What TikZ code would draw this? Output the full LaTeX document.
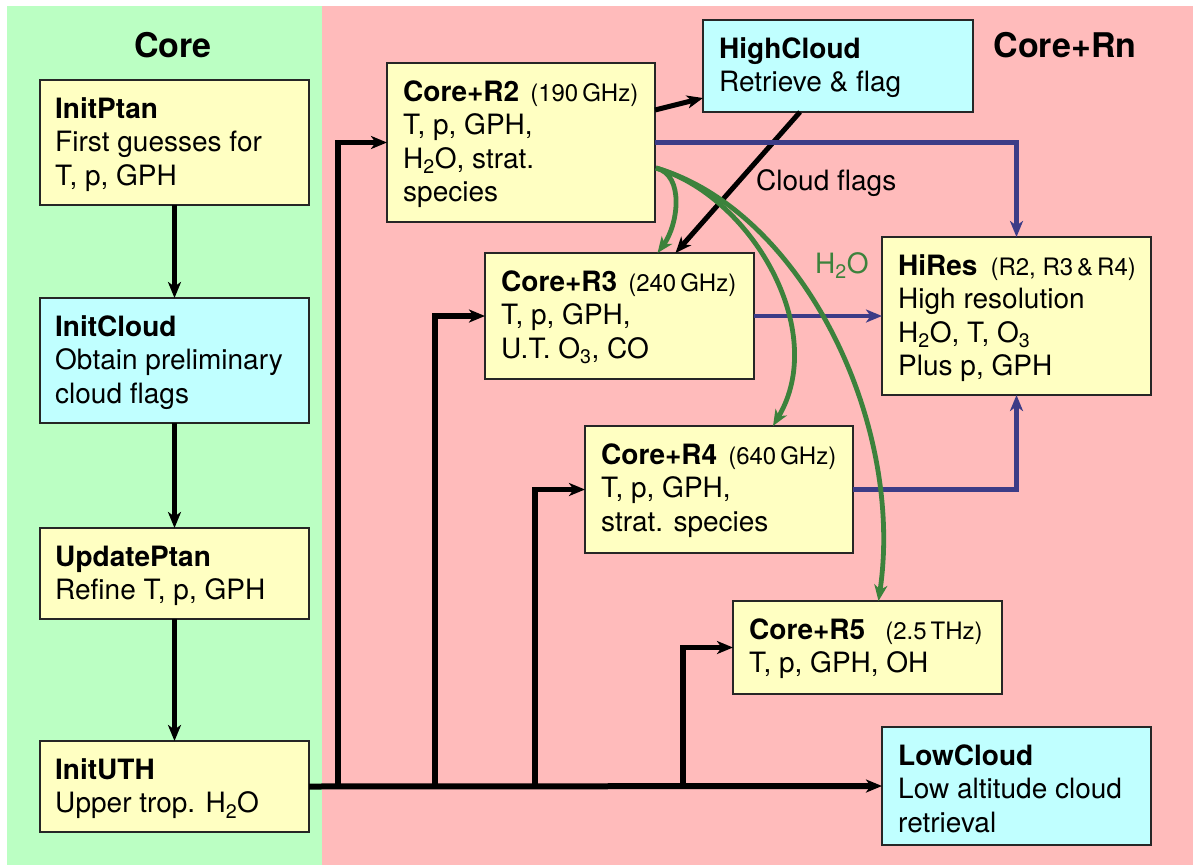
\documentclass[tikz,border=0pt]{standalone}
\usepackage{fontspec}
\setmainfont{TeX Gyre Heros}
\usetikzlibrary{arrows.meta}
\definecolor{bgG}{RGB}{187,255,195}
\definecolor{bgP}{RGB}{255,187,187}
\definecolor{boxY}{RGB}{255,255,194}
\definecolor{boxC}{RGB}{192,255,255}
\definecolor{arrB}{RGB}{60,60,135}
\definecolor{arrG}{RGB}{60,130,60}
\newcommand\smallpar[1]{{\fontsize{24}{28}\selectfont #1}}
\newcommand\firstline{\rule{0pt}{21pt}}
\begin{document}
\begin{tikzpicture}[x=1pt,y=-1pt,
  box/.style={draw=black!85, line width=1.4pt, anchor=north west, inner sep=0pt, outer sep=0pt},
  ybox/.style={box, fill=boxY},
  cbox/.style={box, fill=boxC},
  txt/.style={anchor=north west, inner sep=0pt, align=left, font=\fontsize{28}{33.5}\selectfont},
  lbl/.style={anchor=base west, inner sep=0pt, font=\fontsize{28}{33.5}\selectfont},
  ttl/.style={anchor=base, inner sep=0pt, font=\bfseries\fontsize{34}{40}\selectfont},
  tip/.style={-{Stealth[length=16pt,width=13pt,inset=4.5pt]}},
  blk/.style={tip, line width=5.5pt, black},
  blu/.style={tip, line width=4.8pt, arrB},
  grn/.style={tip, line width=4.8pt, arrG},
]
\useasboundingbox (0,0) rectangle (1197,865);
\fill[white] (0,0) rectangle (1197,865);
\fill[bgG] (7,6) rectangle (322,865);
\fill[bgP] (322,6) rectangle (1193,865);

\node[ttl] (tcore) at (173,57) {Core};
\node[ttl] (trn) at (1065,57) {Core+Rn};

% Core column
\node[ybox, minimum width=269pt, minimum height=125pt] (initptan) at (40,80) {};
\node[txt] (initptanT) at ([shift={(15pt,-17pt)}]initptan.north west)
  {\firstline\textbf{InitPtan}\\First guesses for\\T, p, GPH};
\node[cbox, minimum width=269pt, minimum height=125pt] (initcloud) at (40,298) {};
\node[txt] (initcloudT) at ([shift={(15pt,-17pt)}]initcloud.north west)
  {\firstline\textbf{InitCloud}\\Obtain preliminary\\cloud flags};
\node[ybox, minimum width=269pt, minimum height=91pt] (updateptan) at (40,528) {};
\node[txt] (updateptanT) at ([shift={(15pt,-17pt)}]updateptan.north west)
  {\firstline\textbf{UpdatePtan}\\Refine T, p, GPH};
\node[ybox, minimum width=269pt, minimum height=91pt] (inituth) at (40,741) {};
\node[txt] (inituthT) at ([shift={(15pt,-17pt)}]inituth.north west)
  {\firstline\textbf{InitUTH}\\Upper trop. H\textsubscript{2}O};

% Core+Rn
\node[ybox, minimum width=268pt, minimum height=159pt] (r2) at (387,63) {};
\node[txt] (r2T) at ([shift={(16pt,-17pt)}]r2.north west)
  {\firstline\textbf{Core+R2}\hspace{11pt}\smallpar{(190\,GHz)}\\T, p, GPH,\\H\textsubscript{2}O, strat.\\species};
\node[cbox, minimum width=270pt, minimum height=92pt] (highcloud) at (703,20) {};
\node[txt] (highcloudT) at ([shift={(16pt,-17pt)}]highcloud.north west)
  {\firstline\textbf{HighCloud}\\Retrieve \& flag};
\node[ybox, minimum width=269pt, minimum height=126pt] (r3) at (485,253) {};
\node[txt] (r3T) at ([shift={(16pt,-17pt)}]r3.north west)
  {\firstline\textbf{Core+R3}\hspace{11pt}\smallpar{(240\,GHz)}\\T, p, GPH,\\U.T. O\textsubscript{3}, CO};
\node[ybox, minimum width=269pt, minimum height=158pt] (hires) at (882,237) {};
\node[txt] (hiresT) at ([shift={(16pt,-17pt)}]hires.north west)
  {\firstline\textbf{HiRes}\hspace{13pt}\smallpar{(R2, R3\,\&\,R4)}\\High resolution\\H\textsubscript{2}O, T, O\textsubscript{3}\\Plus p, GPH};
\node[ybox, minimum width=268pt, minimum height=127pt] (r4) at (585,426) {};
\node[txt] (r4T) at ([shift={(16pt,-17pt)}]r4.north west)
  {\firstline\textbf{Core+R4}\hspace{11pt}\smallpar{(640\,GHz)}\\T, p, GPH,\\strat. species};
\node[ybox, minimum width=269pt, minimum height=93pt] (r5) at (733,601) {};
\node[txt] (r5T) at ([shift={(16pt,-17pt)}]r5.north west)
  {\firstline\textbf{Core+R5}\hspace{20pt}\smallpar{(2.5\,THz)}\\T, p, GPH, OH};
\node[cbox, minimum width=269pt, minimum height=118pt] (lowcloud) at (882,727) {};
\node[txt] (lowcloudT) at ([shift={(16pt,-17pt)}]lowcloud.north west)
  {\firstline\textbf{LowCloud}\\Low altitude cloud\\retrieval};

\node[lbl] (cloudflags) at (756,190) {Cloud flags};
\node[lbl, text=arrG] (h2o) at (815,273) {H\textsubscript{2}O};

% Core chain
\draw[blk] (initptan.south) -- (initcloud.north);
\draw[blk] (initcloud.south) -- (updateptan.north);
\draw[blk] (updateptan.south) -- (inituth.north);

% bus
\coordinate (j1) at (338,786.5);
\coordinate (j2) at (435,786.5);
\coordinate (j3) at (535,786.5);
\coordinate (j4) at (683,786.5);
\draw[blk, line width=6pt] (inituth.east) -- (lowcloud.west);
\draw[blk] (j1) |- (r2.west);
\draw[blk] (j2) |- (r3.west);
\draw[blk] (j3) |- (r4.west);
\draw[blk] (j4) |- (r5.west);

% HighCloud links
\draw[blk, line width=5pt] ([yshift=-47pt]r2.north east) -- ([yshift=14pt]highcloud.south west);
\draw[blk, line width=5pt] ([xshift=-38pt]highcloud.south) -- ([xshift=56pt]r3.north);

% blue to HiRes
\draw[blu] (r2.east) -| (hires.north);
\draw[blu] (r3.east) -- (r3.east -| hires.west);
\draw[blu] (r4.east) -| (hires.south);

% green H2O
\coordinate (g0) at (656,168);
\draw[grn] (g0) .. controls (685,175) and (678,225) .. ([xshift=38pt]r3.north);
\draw[grn] (g0) .. controls (750,195) and (830,330) .. ([xshift=54pt]r4.north);
\draw[grn] (g0) .. controls (800,210) and (905,420) .. ([xshift=11pt]r5.north);
\end{tikzpicture}
\end{document}
